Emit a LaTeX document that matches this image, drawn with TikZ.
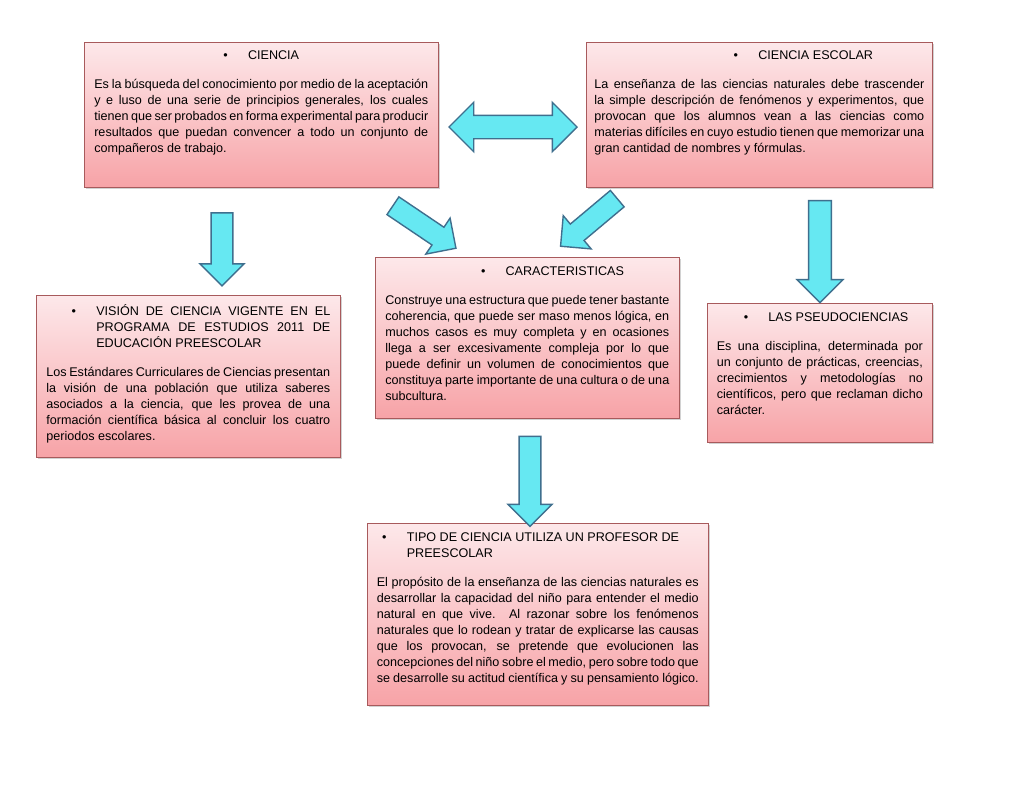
\documentclass[tikz,border=0pt]{standalone}
\usepackage{fontspec}
\setmainfont{Liberation Sans}
\usetikzlibrary{positioning, calc, shapes.arrows, shadows}
\hyphenpenalty=10000
\exhyphenpenalty=10000
\tolerance=9999
\definecolor{boxtop}{HTML}{FDE8EA}
\definecolor{boxbot}{HTML}{F7A3A7}
\definecolor{boxline}{HTML}{A85A5C}
\definecolor{arrfill}{HTML}{66E8F2}
\definecolor{arrline}{HTML}{3F6F8E}
\tikzset{
  cbox/.style={draw=boxline, line width=0.6pt, top color=boxtop, bottom color=boxbot, drop shadow={opacity=0.35, shadow xshift=2pt, shadow yshift=-2pt}, anchor=north west},
  ctext/.style={anchor=north, text width=#1, align=justify, inner sep=0pt, font=\fontsize{12.6}{16}\selectfont},
  bigarrow/.style={single arrow, draw=arrline, line width=1.4pt, fill=arrfill, inner xsep=0pt, inner ysep=10pt, single arrow head extend=11pt, single arrow head indent=0pt},
  dblarrow/.style={double arrow, draw=arrline, line width=1.4pt, fill=arrfill, inner xsep=0pt, inner ysep=11pt, double arrow head extend=13pt}
}
\begin{document}
\begin{tikzpicture}[x=1pt, y=-1pt]
\useasboundingbox[fill=white] (0,0) rectangle (1024,792);

% boxes
\node (ciencia) [cbox, minimum width=354pt, minimum height=145pt] at (84,42) {};
\node (escolar) [cbox, minimum width=346pt, minimum height=145pt] at (586,42) {};
\node (vision) [cbox, minimum width=304pt, minimum height=162pt] at (36,295) {};
\node (carac) [cbox, minimum width=304pt, minimum height=161pt] at (375,257) {};
\node (pseudo) [cbox, minimum width=225pt, minimum height=139pt] at (707,303) {};
\node (tipo) [cbox, minimum width=341pt, minimum height=182pt] at (367,523) {};

% texts
\node (ciencia-t) [ctext=334pt, below=9pt of ciencia.north] {\centering\textbullet\hspace{1.6em}CIENCIA\par\vspace{13pt}
Es la búsqueda del conocimiento por medio de la aceptación y e luso de una serie de principios generales, los cuales tienen que ser probados en forma experimental para producir resultados que puedan convencer a todo un conjunto de compañeros de trabajo.};
\node (escolar-t) [ctext=330pt, below=9pt of escolar.north] {\centering\hspace{7em}\textbullet\hspace{1.6em}CIENCIA ESCOLAR\par\vspace{13pt}
La enseñanza de las ciencias naturales debe trascender la simple descripción de fenómenos y experimentos, que provocan que los alumnos vean a las ciencias como materias difíciles en cuyo estudio tienen que memorizar una gran cantidad de nombres y fórmulas.};
\node (vision-t) [ctext=284pt, below=9pt of vision.north] {\leftskip=50pt\noindent\llap{\textbullet\hspace{1.6em}}VISIÓN DE CIENCIA VIGENTE EN EL PROGRAMA DE ESTUDIOS 2011 DE EDUCACIÓN PREESCOLAR\par\leftskip=0pt\vspace{13pt}
Los Estándares Curriculares de Ciencias presentan la visión de una población que utiliza saberes asociados a la ciencia, que les provea de una formación científica básica al concluir los cuatro periodos escolares.};
\node (carac-t) [ctext=284pt, below=9pt of carac.north] {\centering\hspace{4em}\textbullet\hspace{1.6em}CARACTERISTICAS\par\vspace{13pt}
Construye una estructura que puede tener bastante coherencia, que puede ser maso menos lógica, en muchos casos es muy completa y en ocasiones llega a ser excesivamente compleja por lo que puede definir un volumen de conocimientos que constituya parte importante de una cultura o de una subcultura.};
\node (pseudo-t) [ctext=206pt, below=9pt of pseudo.north] {\centering\hspace{1em}\textbullet\hspace{1.6em}LAS PSEUDOCIENCIAS\par\vspace{13pt}
Es una disciplina, determinada por un conjunto de prácticas, creencias, crecimientos y metodologías no científicos, pero que reclaman dicho carácter.};
\node (tipo-t) [ctext=322pt, below=9pt of tipo.north] {\raggedright\leftskip=30pt\noindent\llap{\textbullet\hspace{1.6em}}TIPO DE CIENCIA UTILIZA UN PROFESOR DE PREESCOLAR\par\leftskip=0pt\vspace{13pt}
El propósito de la enseñanza de las ciencias naturales es desarrollar la capacidad del niño para entender el medio natural en que vive. Al razonar sobre los fenómenos naturales que lo rodean y tratar de explicarse las causas que los provocan, se pretende que evolucionen las concepciones del niño sobre el medio, pero sobre todo que se desarrolle su actitud científica y su pensamiento lógico.};

% arrows
\node (a-dbl) [dblarrow, minimum height=128pt, minimum width=48pt] at (513,127) {};
\node (a-vis) [bigarrow, minimum height=73pt, minimum width=44pt, rotate=-90] at (222,244) {};
\node (a-pse) [bigarrow, minimum height=102pt, minimum width=46pt, rotate=-90] at (820,246) {};
\node (a-tipo) [bigarrow, minimum height=90pt, minimum width=44pt, rotate=-90] at (530,476) {};
\node (a-l) [bigarrow, minimum height=76pt, minimum width=42pt, rotate=-34] at (420,224) {};
\node (a-r) [bigarrow, minimum height=74pt, minimum width=42pt, rotate=-140] at (593,219) {};
\end{tikzpicture}
\end{document}
